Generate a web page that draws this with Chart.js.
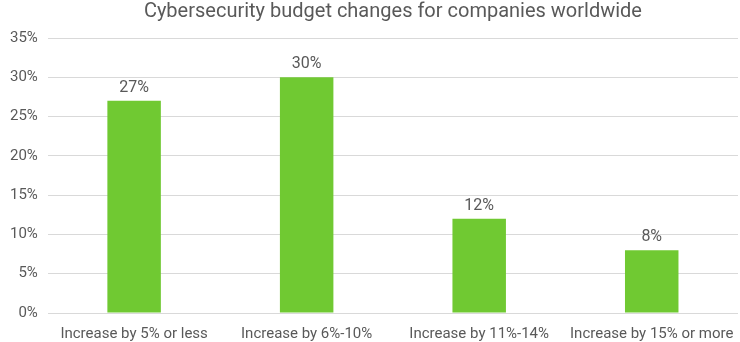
<!DOCTYPE html>
<html>
<head>
<meta charset="utf-8">
<script src="https://cdn.jsdelivr.net/npm/chart.js@4/dist/chart.umd.min.js"></script>
<style>
    html, body { margin: 0; padding: 0; background: #fff; }
    #wrap { width: 740px; height: 342px; }
</style>
</head>
<body>
<div id="wrap"><canvas id="budgetChart"></canvas></div>
<script>
// Chart data
const categories = ['Increase by 5% or less', 'Increase by 6%-10%', 'Increase by 11%-14%', 'Increase by 15% or more'];
const shares = [27, 30, 12, 8];
const yTicks = [0, 5, 10, 15, 20, 25, 30, 35];

const textColor = '#595959';
const fontFamily = 'Roboto, "Liberation Sans", sans-serif';

// Draw value labels above each bar
const valueLabels = {
    id: 'valueLabels',
    afterDatasetsDraw(chart) {
        const ctx = chart.ctx;
        const meta = chart.getDatasetMeta(0);
        ctx.save();
        ctx.fillStyle = textColor;
        ctx.font = '16px ' + fontFamily;
        ctx.textAlign = 'center';
        ctx.textBaseline = 'bottom';
        meta.data.forEach((bar, i) => {
            ctx.fillText(shares[i] + '%', bar.x, bar.y - 5);
        });
        ctx.restore();
    }
};

const ctx = document.getElementById('budgetChart').getContext('2d');
new Chart(ctx, {
    type: 'bar',
    data: {
        labels: categories,
        datasets: [{
            data: shares,
            backgroundColor: '#70c932',
            categoryPercentage: 1,
            barPercentage: 0.31
        }]
    },
    options: {
        responsive: true,
        maintainAspectRatio: false,
        animation: false,
        layout: { padding: { left: 0, right: 2, top: 0, bottom: 0 } },
        plugins: {
            legend: { display: false },
            tooltip: { enabled: false },
            title: {
                display: true,
                text: 'Cybersecurity budget changes for companies worldwide',
                color: textColor,
                fullSize: false,
                font: { family: fontFamily, size: 20, weight: 'normal' },
                padding: { top: 0, bottom: 14 }
            }
        },
        scales: {
            x: {
                grid: { display: false },
                border: { display: false },
                afterFit(axis) {
                    axis.height = 29;
                },
                ticks: {
                    color: textColor,
                    font: { family: fontFamily, size: 15 },
                    maxRotation: 0,
                    autoSkip: false,
                    padding: 4
                }
            },
            y: {
                min: 0,
                max: 35,
                afterBuildTicks(axis) {
                    axis.ticks = yTicks.map(v => ({ value: v }));
                },
                grid: { color: '#d9d9d9', drawTicks: false },
                border: { display: false },
                ticks: {
                    color: textColor,
                    font: { family: fontFamily, size: 15 },
                    padding: 10,
                    callback: v => v + '%'
                }
            }
        }
    },
    plugins: [valueLabels]
});
</script>
</body>
</html>
